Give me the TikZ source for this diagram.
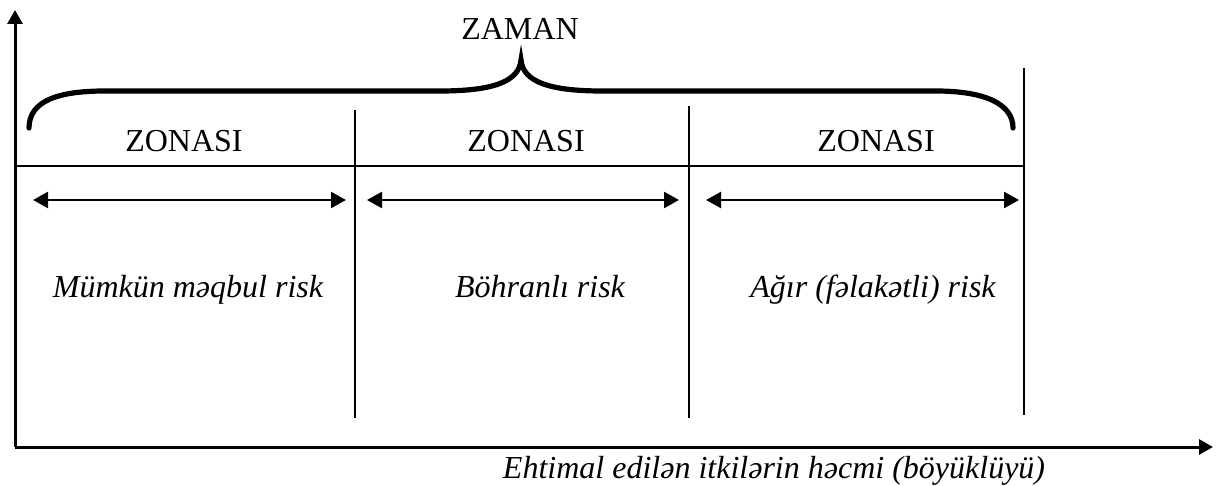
\documentclass[tikz,border=0pt]{standalone}
\usepackage{fontspec}
\setmainfont{Liberation Serif}
\usetikzlibrary{arrows.meta}
\begin{document}
\begin{tikzpicture}[x=0.5pt,y=-0.5pt,
  txt/.style={font=\fontsize{16}{19}\selectfont, inner sep=0pt, anchor=base},
  itxt/.style={font=\fontsize{16}{19}\selectfont\itshape, inner sep=0pt, anchor=base},
  axis/.style={line width=1.5pt, -{Triangle[length=7pt,width=7.5pt]}},
  zoneline/.style={line width=0.9pt},
  divider/.style={line width=0.8pt},
  span/.style={line width=1.2pt, {Triangle[length=7.5pt,width=8pt]}-{Triangle[length=7.5pt,width=8pt]}},
  bracestyle/.style={line width=2.6pt, line cap=round}]
\useasboundingbox (0,0) rectangle (1219,486);
% axes
\coordinate (O) at (15,447);
\coordinate (ytop) at (15,10);
\coordinate (xend) at (1213,447);
\draw[axis] (O) -- (ytop);
\draw[axis] (O) -- (xend);
% horizontal zone line
\coordinate (hl) at (15,166);
\coordinate (hr) at (1025,166);
\draw[zoneline] (hl) -- (hr);
% dividers
\coordinate (d1t) at (355,110); \coordinate (d1b) at (355,418);
\coordinate (d2t) at (689,106); \coordinate (d2b) at (689,418);
\coordinate (d3t) at (1024,68); \coordinate (d3b) at (1024,415);
\draw[divider] (d1t) -- (d1b);
\draw[divider] (d2t) -- (d2b);
\draw[divider] (d3t) -- (d3b);
% brace
\coordinate (bl) at (29,128);
\coordinate (btip) at (521,60);
\coordinate (br) at (1013,128);
\draw[bracestyle] (bl) .. controls (29,100) and (60,91) .. (105,91) -- (440,91)
  .. controls (492,91) and (519,82) .. (btip)
  .. controls (523,82) and (550,91) .. (602,91) -- (936,91)
  .. controls (985,91) and (1013,104) .. (br);
% texts
\node[txt] (zaman) at (520,40) {ZAMAN};
\node[txt] (z1) at (184,152) {ZONASI};
\node[txt] (z2) at (526,152) {ZONASI};
\node[txt] (z3) at (876,152) {ZONASI};
% span arrows
\coordinate (a1l) at (33,200); \coordinate (a1r) at (346,200);
\coordinate (a2l) at (367,200); \coordinate (a2r) at (679,200);
\coordinate (a3l) at (706,200); \coordinate (a3r) at (1019,200);
\draw[span] (a1l) -- (a1r);
\draw[span] (a2l) -- (a2r);
\draw[span] (a3l) -- (a3r);
\node[itxt] (r1) at (188,297) {Mümkün məqbul risk};
\node[itxt] (r2) at (540,297) {Böhranlı risk};
\node[itxt] (r3) at (873,297) {Ağır (fəlakətli) risk};
\node[itxt] (xl) at (774,478) {Ehtimal edilən itkilərin həcmi (böyüklüyü)};
\end{tikzpicture}
\end{document}
